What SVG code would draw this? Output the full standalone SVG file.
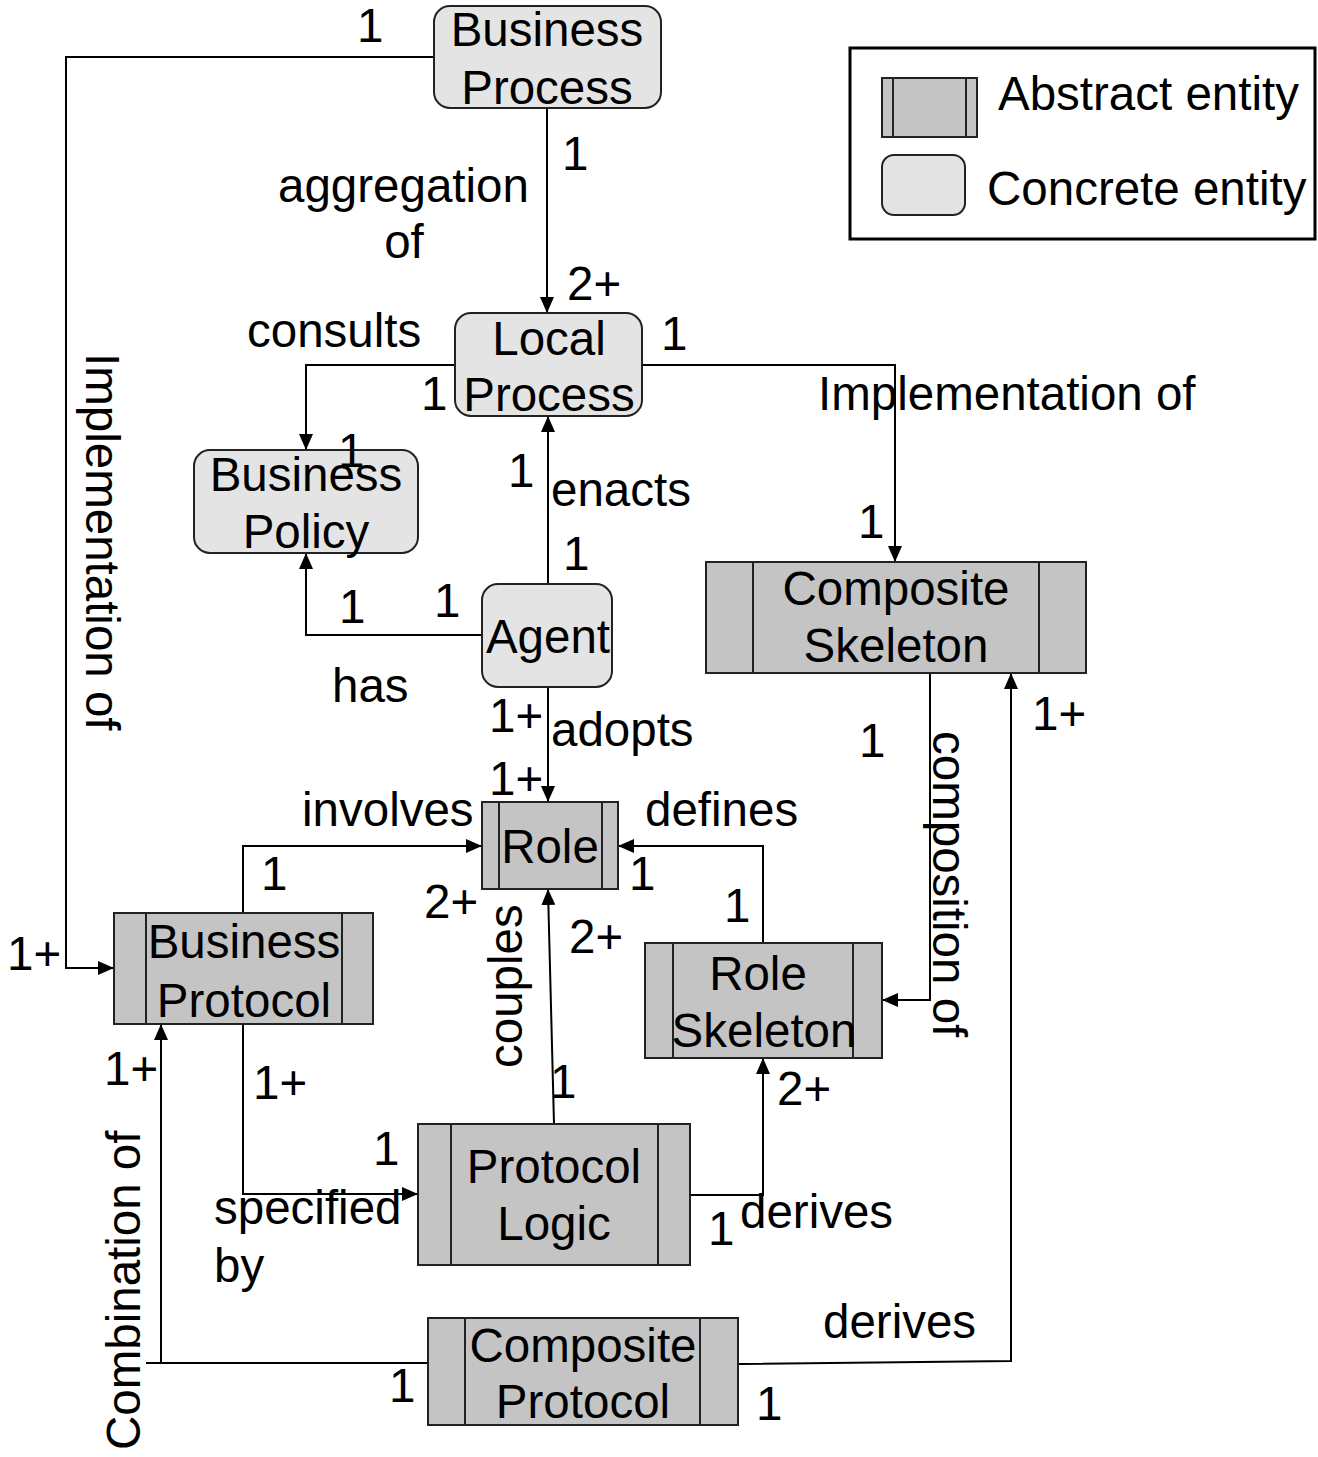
<svg xmlns="http://www.w3.org/2000/svg" width="1318" height="1457" viewBox="0 0 1318 1457">
<style>
text{font-family:"Liberation Sans",Arial,sans-serif;font-size:47.5px;fill:#000}
.c{text-anchor:middle}
.conc{fill:#e4e4e4;stroke:#222;stroke-width:2}
.abs{fill:#c4c4c4;stroke:#222;stroke-width:2}
.in{stroke:#222;stroke-width:2;fill:none}
.ln{fill:none;stroke:#000;stroke-width:2}
</style>
<defs>
<marker id="ah" markerUnits="userSpaceOnUse" markerWidth="16" markerHeight="14" refX="15" refY="7" orient="auto">
<path d="M0,0 L16,7 L0,14 Z" fill="#000"/>
</marker>
</defs>
<rect width="1318" height="1457" fill="#fff"/>

<g id="connectors">
<path class="ln" d="M434,57 H66 V968 H113" marker-end="url(#ah)"/>
<path class="ln" d="M547,108 V312" marker-end="url(#ah)"/>
<path class="ln" d="M455,365 H306 V449" marker-end="url(#ah)"/>
<path class="ln" d="M642,365 H895 V561" marker-end="url(#ah)"/>
<path class="ln" d="M548,584 V417" marker-end="url(#ah)"/>
<path class="ln" d="M482,635 H306 V554" marker-end="url(#ah)"/>
<path class="ln" d="M548,687 V801" marker-end="url(#ah)"/>
<path class="ln" d="M243,913 V846 H481" marker-end="url(#ah)"/>
<path class="ln" d="M763,943 V846 H619" marker-end="url(#ah)"/>
<path class="ln" d="M930,673 V1000 H883" marker-end="url(#ah)"/>
<path class="ln" d="M554,1124 L548,890" marker-end="url(#ah)"/>
<path class="ln" d="M243,1024 V1194 H417" marker-end="url(#ah)"/>
<path class="ln" d="M690,1195 H763 V1059" marker-end="url(#ah)"/>
<path class="ln" d="M428,1363 H146"/>
<path class="ln" d="M161,1363 V1025" marker-end="url(#ah)"/>
<path class="ln" d="M739,1364 L1011,1361 V674" marker-end="url(#ah)"/>
</g>

<g id="legend">
<rect x="850" y="48" width="465" height="191" fill="#fff" stroke="#000" stroke-width="3"/>
<rect class="abs" x="882" y="78" width="95" height="59"/>
<path class="in" d="M893,78 V137 M966,78 V137"/>
<text x="998" y="110">Abstract entity</text>
<rect class="conc" x="882" y="155" width="83" height="60" rx="12"/>
<text x="987" y="205">Concrete entity</text>
</g>

<g id="business-process">
<rect class="conc" x="434" y="6" width="227" height="102" rx="16"/>
<text class="c" x="547" y="46">Business</text>
<text class="c" x="547" y="104">Process</text>
</g>

<g id="local-process">
<rect class="conc" x="455" y="313" width="187" height="103" rx="16"/>
<text class="c" x="549" y="355">Local</text>
<text class="c" x="549" y="411">Process</text>
</g>

<g id="business-policy">
<rect class="conc" x="194" y="450" width="224" height="103" rx="16"/>
<text class="c" x="306" y="491">Business</text>
<text class="c" x="306" y="548">Policy</text>
</g>

<g id="agent">
<rect class="conc" x="482" y="584" width="130" height="103" rx="16"/>
<text class="c" x="548" y="653">Agent</text>
</g>

<g id="composite-skeleton">
<rect class="abs" x="706" y="562" width="380" height="111"/>
<path class="in" d="M753,562 V673 M1039,562 V673"/>
<text class="c" x="896" y="605">Composite</text>
<text class="c" x="896" y="662">Skeleton</text>
</g>

<g id="role">
<rect class="abs" x="482" y="802" width="136" height="87"/>
<path class="in" d="M499,802 V889 M602,802 V889"/>
<text class="c" x="550" y="863">Role</text>
</g>

<g id="business-protocol">
<rect class="abs" x="114" y="913" width="259" height="111"/>
<path class="in" d="M146,913 V1024 M342,913 V1024"/>
<text class="c" x="244" y="958">Business</text>
<text class="c" x="244" y="1017">Protocol</text>
</g>

<g id="role-skeleton">
<rect class="abs" x="645" y="943" width="237" height="115"/>
<path class="in" d="M673,943 V1058 M853,943 V1058"/>
<text class="c" x="758" y="990">Role</text>
<text class="c" x="764" y="1047">Skeleton</text>
</g>

<g id="protocol-logic">
<rect class="abs" x="418" y="1124" width="272" height="141"/>
<path class="in" d="M451,1124 V1265 M658,1124 V1265"/>
<text class="c" x="554" y="1183">Protocol</text>
<text class="c" x="554" y="1240">Logic</text>
</g>

<g id="composite-protocol">
<rect class="abs" x="428" y="1318" width="310" height="107"/>
<path class="in" d="M465,1318 V1425 M700,1318 V1425"/>
<text class="c" x="583" y="1362">Composite</text>
<text class="c" x="583" y="1418">Protocol</text>
</g>

<g id="labels">
<text x="357" y="42">1</text>
<text x="278" y="202">aggregation</text>
<text class="c" x="404" y="258">of</text>
<text x="562" y="170">1</text>
<text x="567" y="300">2+</text>
<text x="247" y="347">consults</text>
<text x="661" y="350">1</text>
<text x="421" y="410">1</text>
<text x="818" y="410">Implementation of</text>
<text x="338" y="467">1</text>
<text x="508" y="487">1</text>
<text x="551" y="506">enacts</text>
<text x="858" y="538">1</text>
<text x="563" y="570">1</text>
<text x="339" y="623">1</text>
<text x="434" y="617">1</text>
<text x="332" y="702">has</text>
<text x="489" y="732">1+</text>
<text x="551" y="746">adopts</text>
<text x="859" y="757">1</text>
<text x="1032" y="730">1+</text>
<text x="489" y="795">1+</text>
<text x="302" y="826">involves</text>
<text x="645" y="826">defines</text>
<text x="261" y="890">1</text>
<text x="629" y="890">1</text>
<text x="424" y="918">2+</text>
<text x="724" y="922">1</text>
<text x="569" y="953">2+</text>
<text x="7" y="970">1+</text>
<text x="104" y="1085">1+</text>
<text x="253" y="1099">1+</text>
<text x="550" y="1098">1</text>
<text x="777" y="1105">2+</text>
<text x="373" y="1165">1</text>
<text x="740" y="1228">derives</text>
<text x="214" y="1224">specified</text>
<text x="214" y="1282">by</text>
<text x="708" y="1245">1</text>
<text x="823" y="1338">derives</text>
<text x="389" y="1402">1</text>
<text x="756" y="1420">1</text>
<text transform="translate(86,353) rotate(90)">Implementation of</text>
<text transform="translate(933,731) rotate(90)">composition of</text>
<text transform="translate(522,1068) rotate(-90)">couples</text>
<text transform="translate(140,1450) rotate(-90)">Combination of</text>
</g>
</svg>
